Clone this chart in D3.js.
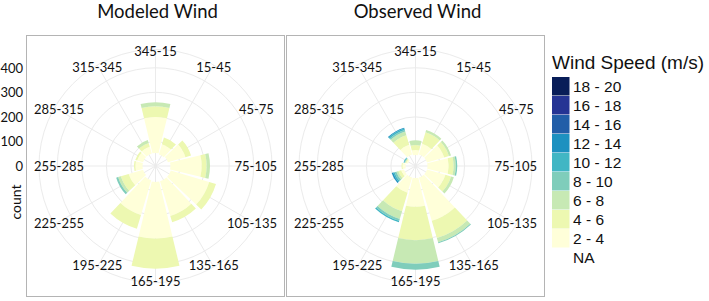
<!DOCTYPE html>
<html>
<head>
<meta charset="utf-8">
<script src="https://cdn.jsdelivr.net/npm/d3@7"></script>
<style>
  body { margin: 0; background: #fff; }
  svg { display: block; }
</style>
</head>
<body>
<svg id="chart" width="709" height="301"></svg>
<script>
// Sectors (degrees), clockwise from north
const directions = ["345-15", "15-45", "45-75", "75-105", "105-135", "135-165",
                    "165-195", "195-225", "225-255", "255-285", "285-315", "315-345"];

// Speed bins, innermost first (NA = below 2 m/s, drawn without fill)
const speedBins   = ["NA", "2-4", "4-6", "6-8", "8-10", "10-12", "12-14", "14-16", "16-18", "18-20"];
const speedLabels = ["NA", "2 - 4", "4 - 6", "6 - 8", "8 - 10", "10 - 12", "12 - 14", "14 - 16", "16 - 18", "18 - 20"];
const binColors   = ["none", "#ffffd9", "#edf8b1", "#c7e9b4", "#7fcdbb", "#41b6c4",
                     "#1d91c0", "#225ea8", "#253494", "#081d58"];

const countTicks  = [0, 100, 200, 300, 400];
const panelTitles = ["Modeled Wind", "Observed Wind"];

// Counts per sector, one row per speed bin (same order as speedBins)
const modeledCounts = [
  [53, 49, 53, 61, 65, 65, 65, 61, 53, 53, 53, 53],        // NA
  [147, 43, 74, 127, 163, 147, 230, 147, 61, 29, 25, 29],  // 2-4
  [43, 29, 24, 20, 29, 27, 123, 59, 33, 6, 8, 16],         // 4-6
  [17, 0, 0, 14, 0, 0, 0, 0, 12, 0, 0, 12],                // 6-8
  [0, 0, 0, 0, 0, 0, 0, 0, 8, 0, 0, 0],                    // 8-10
  [0, 0, 0, 0, 0, 0, 0, 0, 0, 0, 0, 0],                    // 10-12
  [0, 0, 0, 0, 0, 0, 0, 0, 0, 0, 0, 0],                    // 12-14
  [0, 0, 0, 0, 0, 0, 0, 0, 0, 0, 0, 0],                    // 14-16
  [0, 0, 0, 0, 0, 0, 0, 0, 0, 0, 0, 0],                    // 16-18
  [0, 0, 0, 0, 0, 0, 0, 0, 0, 0, 0, 0]                     // 18-20
];

const observedCounts = [
  [45, 49, 49, 49, 49, 49, 49, 49, 49, 41, 33, 49],        // NA
  [20, 45, 73, 86, 78, 184, 117, 65, 12, 12, 6, 41],       // 2-4
  [20, 49, 20, 20, 24, 73, 136, 78, 12, 4, 4, 41],         // 4-6
  [20, 10, 9, 9, 12, 18, 96, 33, 8, 0, 2, 16],             // 6-8
  [0, 0, 0, 6, 0, 4, 24, 8, 8, 0, 3, 6],                   // 8-10
  [0, 0, 0, 0, 0, 0, 0, 6, 6, 0, 3, 6],                    // 10-12
  [0, 0, 0, 0, 0, 0, 0, 0, 6, 0, 0, 4],                    // 12-14
  [0, 0, 0, 0, 0, 0, 0, 0, 0, 0, 0, 0],                    // 14-16
  [0, 0, 0, 0, 0, 0, 0, 0, 0, 0, 0, 0],                    // 16-18
  [0, 0, 0, 0, 0, 0, 0, 0, 0, 0, 0, 0]                     // 18-20
];

// Build rows {dir, bin: count}
function toRows(counts) {
  return directions.map((dir, i) => {
    const row = { dir: dir };
    speedBins.forEach((b, j) => row[b] = counts[j][i]);
    return row;
  });
}

const panelsData = [modeledCounts, observedCounts].map(toRows);
const stack = d3.stack().keys(speedBins);
const stacked = panelsData.map(rows => stack(rows));

// Layout
const svg = d3.select("#chart");
const panelW = 259, panelH = 262, panelTop = 35;
const panelLefts = [26, 286];
const labelFont = "Lato, 'Open Sans', sans-serif";

// Scales
const x = d3.scaleBand()
  .domain(directions)
  .range([-Math.PI / 12, 2 * Math.PI - Math.PI / 12])
  .paddingInner(0.1)
  .paddingOuter(0.05);

const maxTotal = d3.max(stacked, s => d3.max(s[s.length - 1], d => d[1]));
const r = d3.scaleLinear().domain([0, maxTotal]).range([0, 0.4 * panelW]);
const color = d3.scaleOrdinal().domain(speedBins).range(binColors);

const arc = d3.arc()
  .innerRadius(d => r(d[0]))
  .outerRadius(d => r(d[1]))
  .startAngle(d => x(d.data.dir))
  .endAngle(d => x(d.data.dir) + x.bandwidth());

const outerR = 0.45 * panelW;

stacked.forEach((series, p) => {
  const left = panelLefts[p];
  const cx = left + panelW / 2, cy = panelTop + panelH / 2;

  // Panel border
  svg.append("rect")
    .attr("x", left + 0.5).attr("y", panelTop + 0.5)
    .attr("width", panelW - 1).attr("height", panelH - 1)
    .attr("fill", "#fff")
    .attr("stroke", "#b4b4b4");

  const g = svg.append("g").attr("transform", `translate(${cx},${cy})`);

  // Grid circles + outer circle
  g.selectAll("circle.grid")
    .data(countTicks.filter(v => v > 0).map(v => r(v)).concat([outerR]))
    .enter().append("circle")
      .attr("class", "grid")
      .attr("r", d => d)
      .attr("fill", "none")
      .attr("stroke", "#ebebeb")
      .attr("stroke-width", 1);

  // Spokes
  g.selectAll("line.spoke")
    .data(directions)
    .enter().append("line")
      .attr("class", "spoke")
      .attr("x1", 0).attr("y1", 0)
      .attr("x2", d => outerR * Math.sin(x(d) + x.bandwidth() / 2))
      .attr("y2", d => -outerR * Math.cos(x(d) + x.bandwidth() / 2))
      .attr("stroke", "#ebebeb")
      .attr("stroke-width", 1);

  // Stacked wedges
  g.selectAll("g.layer")
    .data(series)
    .enter().append("g")
      .attr("class", "layer")
      .attr("fill", d => color(d.key))
    .selectAll("path")
    .data(d => d.filter(s => s[1] > s[0]))
    .enter().append("path")
      .attr("d", arc);

  // Direction labels, kept inside the panel
  g.selectAll("text.dir")
    .data(directions)
    .enter().append("text")
      .attr("class", "dir")
      .attr("text-anchor", "middle")
      .attr("dominant-baseline", "central")
      .style("font-family", labelFont)
      .style("font-size", "13px")
      .attr("fill", "#111")
      .text(d => d)
      .each(function(d) {
        const a = x(d) + x.bandwidth() / 2;
        const w = this.getComputedTextLength();
        let lx = outerR * Math.sin(a);
        const lim = panelW / 2 - 8 - w / 2;
        lx = Math.max(-lim, Math.min(lim, lx));
        d3.select(this)
          .attr("x", lx)
          .attr("y", -(outerR - 2) * Math.cos(a));
      });

  // Title
  svg.append("text")
    .attr("x", cx + 2)
    .attr("y", 18)
    .attr("text-anchor", "middle")
    .style("font-family", labelFont)
    .style("font-size", "18.5px")
    .attr("fill", "#111")
    .text(panelTitles[p]);

  // Count axis on the first panel
  if (p === 0) {
    svg.selectAll("text.ytick")
      .data(countTicks)
      .enter().append("text")
        .attr("class", "ytick")
        .attr("x", left - 3)
        .attr("y", d => cy - r(d))
        .attr("text-anchor", "end")
        .attr("dominant-baseline", "central")
        .style("font-family", labelFont)
        .style("font-size", "13px")
        .attr("fill", "#111")
        .text(d => d);

    svg.append("text")
      .attr("transform", `translate(15,${cy + 36}) rotate(-90)`)
      .attr("text-anchor", "middle")
      .attr("dominant-baseline", "central")
      .style("font-family", labelFont)
      .style("font-size", "14px")
      .attr("fill", "#111")
      .text("count");
  }
});

// Legend
const legend = svg.append("g").attr("transform", "translate(552,0)");
legend.append("text")
  .attr("x", 0).attr("y", 69)
  .style("font-family", "'Liberation Sans', Arial, sans-serif")
  .style("font-size", "19px")
  .attr("fill", "#111")
  .text("Wind Speed (m/s)");

const legendBins = speedBins.slice().reverse();
const keyY = d3.scaleBand().domain(legendBins).range([77, 77 + 19 * legendBins.length]);

legend.selectAll("rect.key")
  .data(legendBins)
  .enter().append("rect")
    .attr("class", "key")
    .attr("x", 0)
    .attr("y", d => keyY(d))
    .attr("width", 17.5)
    .attr("height", keyY.bandwidth() - 0.5)
    .attr("fill", d => d === "NA" ? "none" : color(d));

legend.selectAll("text.key")
  .data(legendBins)
  .enter().append("text")
    .attr("class", "key")
    .attr("x", 21)
    .attr("y", d => keyY(d) + keyY.bandwidth() / 2)
    .attr("dominant-baseline", "central")
    .style("font-family", "'Liberation Sans', Arial, sans-serif")
    .style("font-size", "15.5px")
    .attr("fill", "#111")
    .text(d => speedLabels[speedBins.indexOf(d)]);
</script>
</body>
</html>
